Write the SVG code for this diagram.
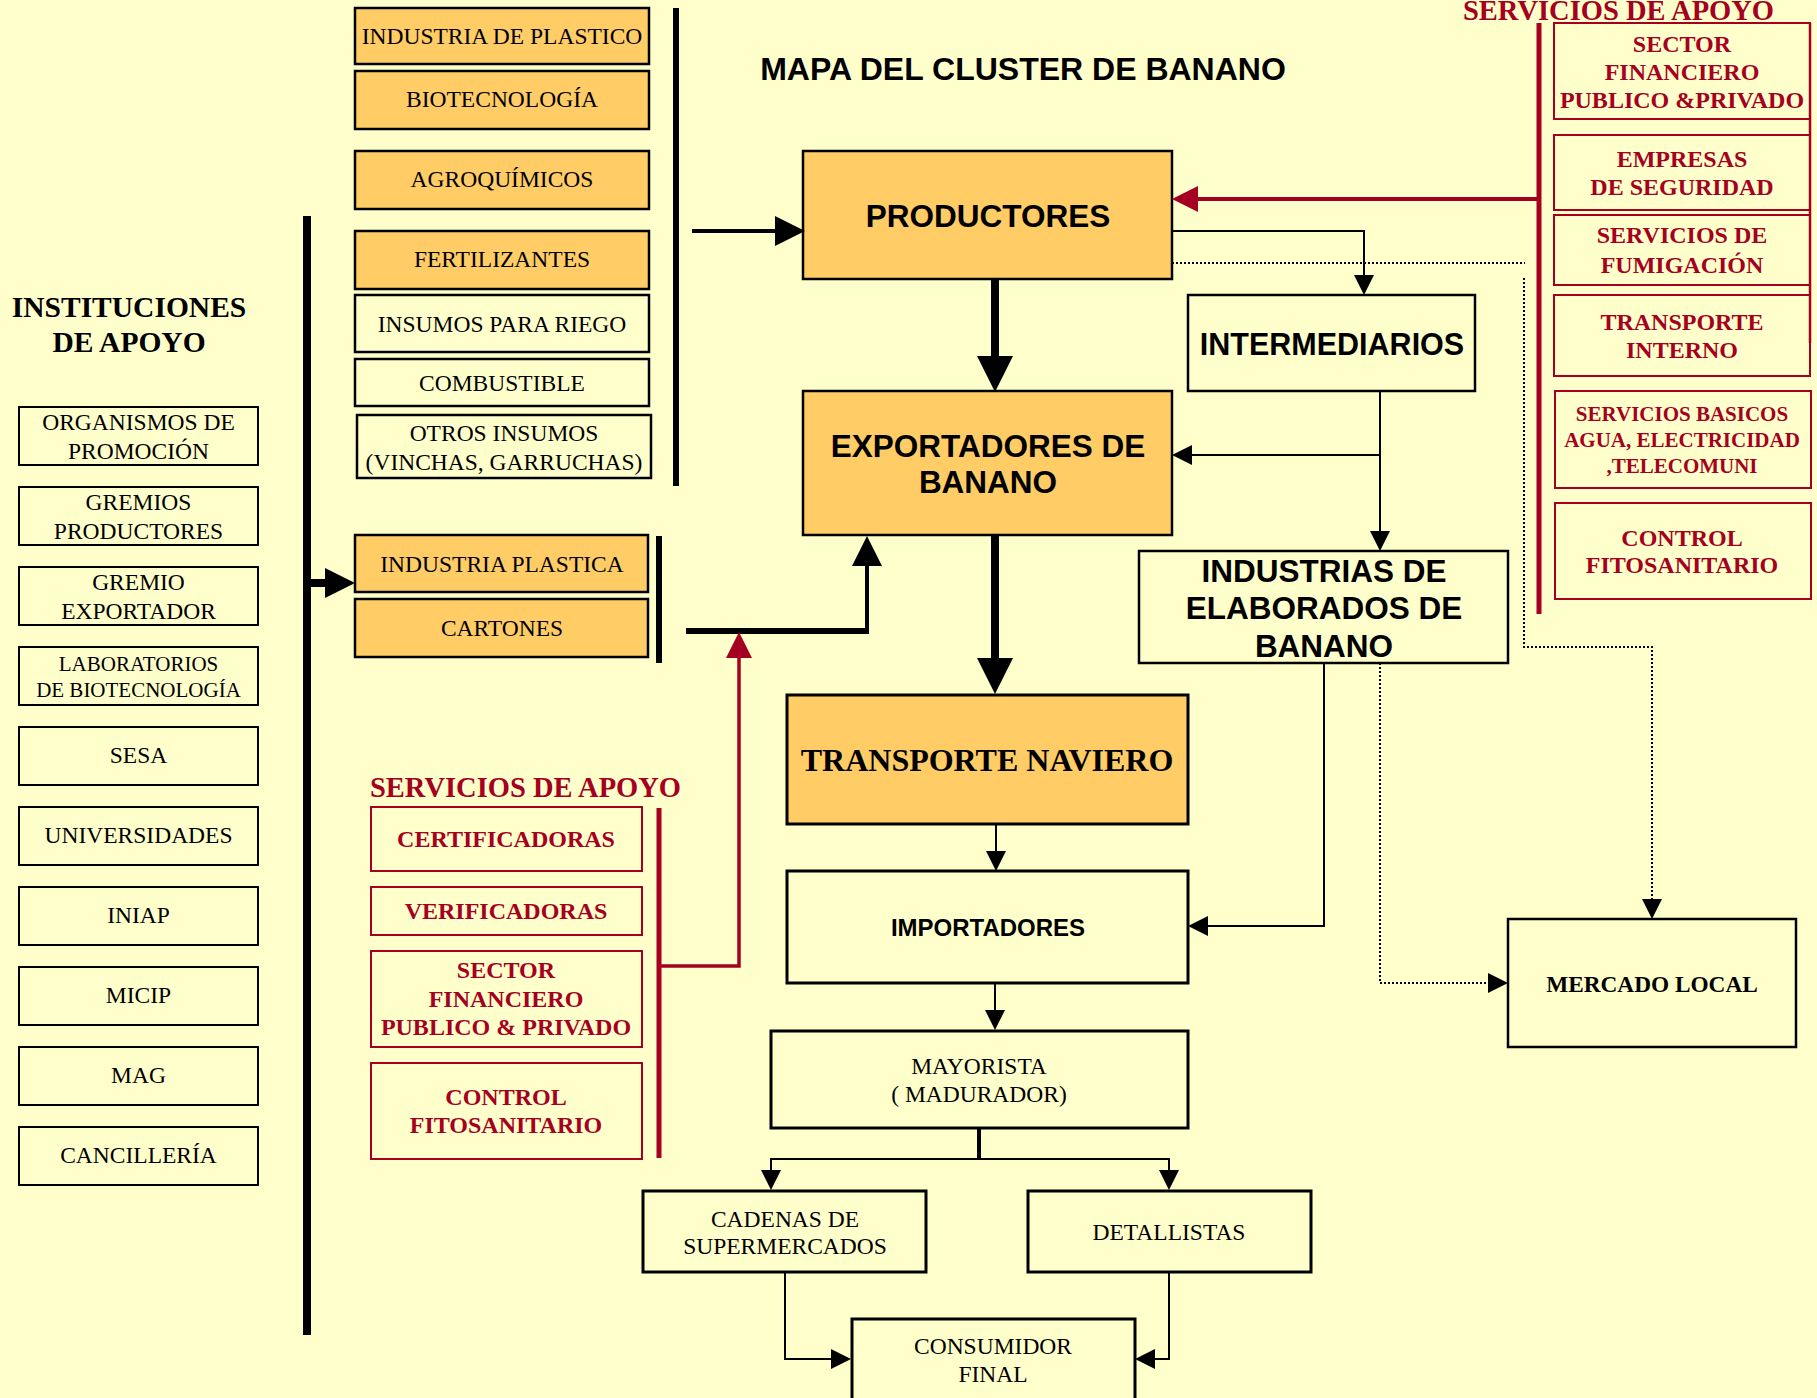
<svg xmlns="http://www.w3.org/2000/svg" width="1817" height="1398" viewBox="0 0 1817 1398">
<style>
.box{fill:#FFFFCC;stroke:#000;stroke-width:2.5}
.ibox{fill:#FFFFCC;stroke:#000;stroke-width:2}
.obox{fill:#FFCC66;stroke:#000;stroke-width:2.5}
.rbox{fill:#FFFFCC;stroke:#A50021;stroke-width:2}
text{text-anchor:middle;fill:#000}
.t{font-family:"Liberation Serif","Times New Roman",serif;font-size:23.5px}
.tb{font-family:"Liberation Serif","Times New Roman",serif;font-weight:bold}
.sb{font-family:"Liberation Sans",Arial,sans-serif;font-weight:bold;font-size:31.5px}
.rt{font-family:"Liberation Serif","Times New Roman",serif;font-weight:bold;font-size:24px;fill:#A50021}
.ln{fill:none;stroke:#000;stroke-width:2}
.dot{fill:none;stroke:#000;stroke-width:2;stroke-dasharray:2 2}
.red{fill:none;stroke:#A50021}
.bar{stroke:#000}
</style>
<defs>
<marker id="ahThin" markerUnits="userSpaceOnUse" markerWidth="20" markerHeight="20" refX="0" refY="10" orient="auto"><path d="M0,0 L20,10 L0,20 z" fill="#000"/></marker>
<marker id="ahMed" markerUnits="userSpaceOnUse" markerWidth="30" markerHeight="30" refX="0" refY="15" orient="auto"><path d="M0,0 L30,15 L0,30 z" fill="#000"/></marker>
<marker id="ahThick" markerUnits="userSpaceOnUse" markerWidth="36" markerHeight="36" refX="0" refY="18" orient="auto"><path d="M0,0 L36,18 L0,36 z" fill="#000"/></marker>
<marker id="ahRed" markerUnits="userSpaceOnUse" markerWidth="26" markerHeight="26" refX="0" refY="13" orient="auto"><path d="M0,0 L26,13 L0,26 z" fill="#A50021"/></marker>
</defs>
<rect x="0" y="0" width="1817" height="1398" fill="#FFFFCC"/>

<text x="1023" y="80" style="font-family:'Liberation Sans',Arial,sans-serif;font-weight:bold;font-size:32px">MAPA DEL CLUSTER DE BANANO</text>

<g id="instituciones-label">
<text class="tb" x="129" y="317" style="font-size:29.5px">INSTITUCIONES</text>
<text class="tb" x="129" y="352" style="font-size:29.5px">DE APOYO</text>
</g>
<g id="inst-organismos"><rect class="ibox" x="19" y="407" width="239" height="58"/><text class="t" x="138.5" y="430">ORGANISMOS DE</text><text class="t" x="138.5" y="459">PROMOCIÓN</text></g>
<g id="inst-gremios-productores"><rect class="ibox" x="19" y="487" width="239" height="58"/><text class="t" x="138.5" y="510">GREMIOS</text><text class="t" x="138.5" y="539">PRODUCTORES</text></g>
<g id="inst-gremio-exportador"><rect class="ibox" x="19" y="567" width="239" height="58"/><text class="t" x="138.5" y="590">GREMIO</text><text class="t" x="138.5" y="619">EXPORTADOR</text></g>
<g id="inst-laboratorios"><rect class="ibox" x="19" y="647" width="239" height="58"/><text class="t" x="138.5" y="671" style="font-size:21px">LABORATORIOS</text><text class="t" x="138.5" y="697" style="font-size:21px">DE BIOTECNOLOGÍA</text></g>
<g id="inst-sesa"><rect class="ibox" x="19" y="727" width="239" height="58"/><text class="t" x="138.5" y="763">SESA</text></g>
<g id="inst-universidades"><rect class="ibox" x="19" y="807" width="239" height="58"/><text class="t" x="138.5" y="843">UNIVERSIDADES</text></g>
<g id="inst-iniap"><rect class="ibox" x="19" y="887" width="239" height="58"/><text class="t" x="138.5" y="923">INIAP</text></g>
<g id="inst-micip"><rect class="ibox" x="19" y="967" width="239" height="58"/><text class="t" x="138.5" y="1003">MICIP</text></g>
<g id="inst-mag"><rect class="ibox" x="19" y="1047" width="239" height="58"/><text class="t" x="138.5" y="1083">MAG</text></g>
<g id="inst-cancilleria"><rect class="ibox" x="19" y="1127" width="239" height="58"/><text class="t" x="138.5" y="1163">CANCILLERÍA</text></g>

<g id="sup-industria-plastico"><rect class="obox" x="355" y="8" width="294" height="56"/><text class="t" x="502" y="44">INDUSTRIA DE PLASTICO</text></g>
<g id="sup-biotecnologia"><rect class="obox" x="355" y="71" width="294" height="58"/><text class="t" x="502" y="107">BIOTECNOLOGÍA</text></g>
<g id="sup-agroquimicos"><rect class="obox" x="355" y="151" width="294" height="58"/><text class="t" x="502" y="187">AGROQUÍMICOS</text></g>
<g id="sup-fertilizantes"><rect class="obox" x="355" y="231" width="294" height="58"/><text class="t" x="502" y="267">FERTILIZANTES</text></g>
<g id="sup-riego"><rect class="box" x="355" y="295" width="294" height="57"/><text class="t" x="502" y="332">INSUMOS PARA RIEGO</text></g>
<g id="sup-combustible"><rect class="box" x="355" y="359" width="294" height="47"/><text class="t" x="502" y="391">COMBUSTIBLE</text></g>
<g id="sup-otros"><rect class="box" x="357" y="415" width="294" height="63"/><text class="t" x="504" y="441">OTROS INSUMOS</text><text class="t" x="504" y="470">(VINCHAS, GARRUCHAS)</text></g>

<g id="sup-industria-plastica"><rect class="obox" x="355" y="535" width="293" height="57"/><text class="t" x="502" y="572">INDUSTRIA PLASTICA</text></g>
<g id="sup-cartones"><rect class="obox" x="355" y="599" width="293" height="58"/><text class="t" x="502" y="636">CARTONES</text></g>

<g id="serv-left-label"><text class="rt" x="370" y="797" style="text-anchor:start;font-size:28.5px">SERVICIOS DE APOYO</text></g>
<g id="serv-certificadoras"><rect class="rbox" x="371" y="807" width="271" height="64"/><text class="rt" x="506" y="847">CERTIFICADORAS</text></g>
<g id="serv-verificadoras"><rect class="rbox" x="371" y="887" width="271" height="48"/><text class="rt" x="506" y="919">VERIFICADORAS</text></g>
<g id="serv-sector-financiero-l"><rect class="rbox" x="371" y="951" width="271" height="96"/><text class="rt" x="506" y="978">SECTOR</text><text class="rt" x="506" y="1007">FINANCIERO</text><text class="rt" x="506" y="1035">PUBLICO &amp; PRIVADO</text></g>
<g id="serv-control-l"><rect class="rbox" x="371" y="1063" width="271" height="96"/><text class="rt" x="506" y="1105">CONTROL</text><text class="rt" x="506" y="1133">FITOSANITARIO</text></g>

<g id="serv-right-label"><text class="rt" x="1463" y="20" style="text-anchor:start;font-size:28.5px">SERVICIOS DE APOYO</text></g>
<g id="serv-sector-financiero-r"><rect class="rbox" x="1554" y="23" width="256" height="96"/><text class="rt" x="1682" y="52">SECTOR</text><text class="rt" x="1682" y="80">FINANCIERO</text><text class="rt" x="1682" y="108">PUBLICO &amp;PRIVADO</text></g>
<g id="serv-empresas"><rect class="rbox" x="1554" y="135" width="256" height="75"/><text class="rt" x="1682" y="167">EMPRESAS</text><text class="rt" x="1682" y="195">DE SEGURIDAD</text></g>
<g id="serv-fumigacion"><rect class="rbox" x="1554" y="215" width="256" height="70"/><text class="rt" x="1682" y="243">SERVICIOS DE</text><text class="rt" x="1682" y="273">FUMIGACIÓN</text></g>
<g id="serv-transporte"><rect class="rbox" x="1554" y="295" width="256" height="81"/><text class="rt" x="1682" y="330">TRANSPORTE</text><text class="rt" x="1682" y="358">INTERNO</text></g>
<g id="serv-basicos"><rect class="rbox" x="1555" y="391" width="256" height="97"/><text class="rt" x="1682" y="421" style="font-size:21px">SERVICIOS BASICOS</text><text class="rt" x="1682" y="447" style="font-size:21px">AGUA, ELECTRICIDAD</text><text class="rt" x="1682" y="473" style="font-size:21px">,TELECOMUNI</text></g>
<g id="serv-control-r"><rect class="rbox" x="1555" y="503" width="256" height="96"/><text class="rt" x="1682" y="546">CONTROL</text><text class="rt" x="1682" y="573">FITOSANITARIO</text></g>

<g id="productores"><rect class="obox" x="803" y="151" width="369" height="128"/><text class="sb" x="988" y="227">PRODUCTORES</text></g>
<g id="exportadores"><rect class="obox" x="803" y="391" width="369" height="144"/><text class="sb" x="988" y="457">EXPORTADORES DE</text><text class="sb" x="988" y="493">BANANO</text></g>
<g id="intermediarios"><rect class="box" x="1188" y="295" width="287" height="96"/><text class="sb" x="1332" y="355" style="font-size:30.5px">INTERMEDIARIOS</text></g>
<g id="industrias"><rect class="box" x="1139" y="551" width="369" height="112"/><text class="sb" x="1324" y="582">INDUSTRIAS DE</text><text class="sb" x="1324" y="619">ELABORADOS DE</text><text class="sb" x="1324" y="657">BANANO</text></g>
<g id="transporte-naviero"><rect class="obox" x="787" y="695" width="401" height="129" style="stroke-width:3"/><text class="tb" x="987" y="771" style="font-size:32px">TRANSPORTE NAVIERO</text></g>
<g id="importadores"><rect class="box" x="787" y="871" width="401" height="112" style="stroke-width:3"/><text class="sb" x="988" y="936" style="font-size:24px">IMPORTADORES</text></g>
<g id="mercado-local"><rect class="box" x="1508" y="919" width="288" height="128"/><text class="tb" x="1652" y="992" style="font-size:23.3px">MERCADO LOCAL</text></g>
<g id="mayorista"><rect class="box" x="771" y="1031" width="417" height="97" style="stroke-width:3"/><text class="t" x="979" y="1074">MAYORISTA</text><text class="t" x="979" y="1102">( MADURADOR)</text></g>
<g id="cadenas"><rect class="box" x="643" y="1191" width="283" height="81" style="stroke-width:3"/><text class="t" x="785" y="1227">CADENAS DE</text><text class="t" x="785" y="1254">SUPERMERCADOS</text></g>
<g id="detallistas"><rect class="box" x="1028" y="1191" width="283" height="81" style="stroke-width:3"/><text class="t" x="1169" y="1240">DETALLISTAS</text></g>
<g id="consumidor"><rect class="box" x="852" y="1319" width="283" height="100" style="stroke-width:3"/><text class="t" x="993" y="1354">CONSUMIDOR</text><text class="t" x="993" y="1382">FINAL</text></g>

<g id="connectors">
<line class="bar" x1="307" y1="216" x2="307" y2="1335" stroke-width="8"/>
<line class="bar" x1="676" y1="8" x2="676" y2="486" stroke-width="6"/>
<line class="bar" x1="659" y1="536" x2="659" y2="663" stroke-width="6"/>
<line class="red" x1="1539" y1="23" x2="1539" y2="614" stroke-width="5"/>
<line class="red" x1="659" y1="808" x2="659" y2="1158" stroke-width="5"/>
<line class="red" x1="1810" y1="23" x2="1810" y2="343" stroke-width="2.5"/>

<path d="M307,583 H325" stroke="#000" stroke-width="8" fill="none" marker-end="url(#ahMed)"/>
<path d="M692,231 H775" stroke="#000" stroke-width="4" fill="none" marker-end="url(#ahMed)"/>
<path d="M995,279 V356" stroke="#000" stroke-width="8" fill="none" marker-end="url(#ahThick)"/>
<path class="ln" d="M1172,231 H1364 V275" marker-end="url(#ahThin)"/>
<path class="dot" d="M1172,263 H1525"/>
<path class="dot" d="M1524,278 V647 H1652 V899" marker-end="url(#ahThin)"/>
<path class="red" d="M1539,199 H1198" stroke-width="4" marker-end="url(#ahRed)"/>
<path class="ln" d="M1380,391 V531" marker-end="url(#ahThin)"/>
<path class="ln" d="M1380,455 H1192" marker-end="url(#ahThin)"/>
<path d="M686,631 H869" stroke="#000" stroke-width="6" fill="none"/>
<path d="M867,631 V566" stroke="#000" stroke-width="4" fill="none" marker-end="url(#ahMed)"/>
<path class="red" d="M659,966 H739 V658" stroke-width="3.5" marker-end="url(#ahRed)"/>
<path d="M995,535 V658" stroke="#000" stroke-width="8" fill="none" marker-end="url(#ahThick)"/>
<path class="ln" d="M996,824 V851" marker-end="url(#ahThin)"/>
<path class="ln" d="M1324,663 V926 H1208" marker-end="url(#ahThin)"/>
<path class="dot" d="M1380,663 V983 H1488" marker-end="url(#ahThin)"/>
<path class="ln" d="M995,983 V1010" marker-end="url(#ahThin)"/>
<path d="M979,1128 V1159" stroke="#000" stroke-width="4" fill="none"/>
<path class="ln" d="M979,1159 H771 V1170" stroke-width="3" marker-end="url(#ahThin)"/>
<path class="ln" d="M979,1159 H1169 V1170" stroke-width="3" marker-end="url(#ahThin)"/>
<path class="ln" d="M785,1272 V1359 H831" stroke-width="3" marker-end="url(#ahThin)"/>
<path class="ln" d="M1169,1272 V1359 H1155" stroke-width="3" marker-end="url(#ahThin)"/>
</g>
</svg>
